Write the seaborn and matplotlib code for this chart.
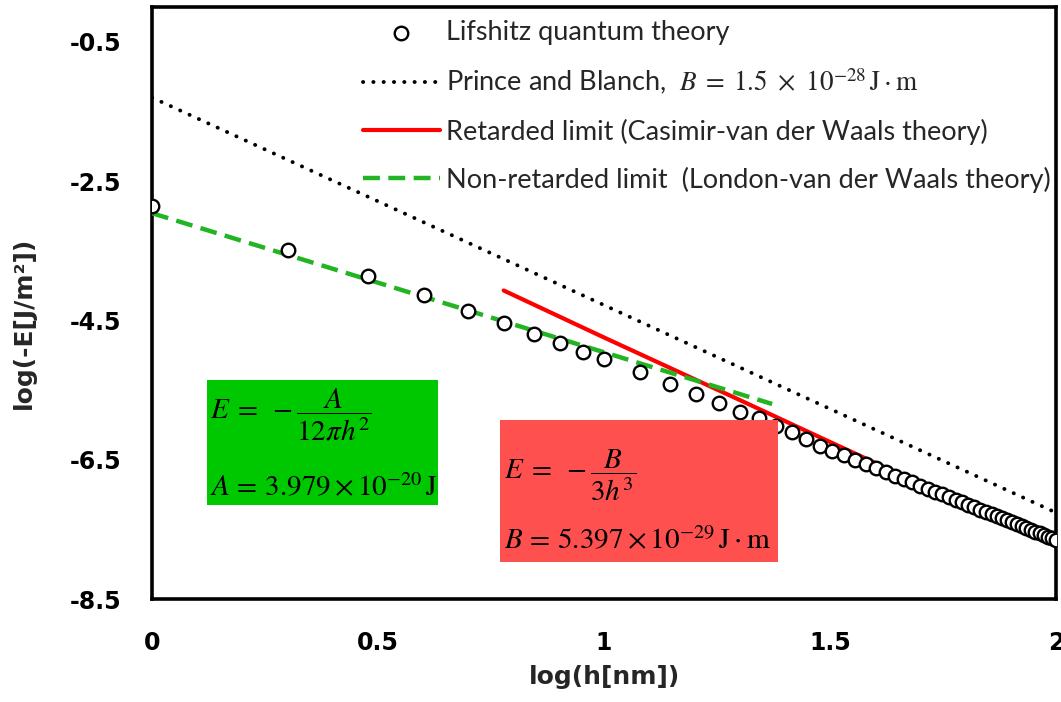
import numpy as np
import pandas as pd
import matplotlib
matplotlib.use("Agg")
import matplotlib.pyplot as plt
from matplotlib.patches import Rectangle
import seaborn as sns

# ---------------- data ----------------
h_nm = [1, 2, 3, 4, 5, 6, 7, 8, 9, 10, 12, 14, 16, 18, 20, 22, 24, 26, 28,
        30, 32, 34, 36, 38, 40, 42, 44, 46, 48, 50, 52, 54, 56, 58, 60, 62,
        64, 66, 68, 70, 72, 74, 76, 78, 80, 82, 84, 86, 88, 90, 92, 94, 96,
        98, 100]
lifshitz_logE = [-2.863, -3.494, -3.862, -4.140, -4.359, -4.541, -4.689, -4.823,
                 -4.948, -5.053, -5.235, -5.407, -5.555, -5.684, -5.809, -5.904,
                 -6.019, -6.105, -6.196, -6.296, -6.369, -6.437, -6.501, -6.562,
                 -6.620, -6.675, -6.727, -6.777, -6.825, -6.871, -6.915, -6.957,
                 -6.998, -7.038, -7.076, -7.113, -7.149, -7.183, -7.217, -7.249,
                 -7.281, -7.312, -7.342, -7.371, -7.400, -7.427, -7.455, -7.481,
                 -7.507, -7.532, -7.557, -7.581, -7.605, -7.628, -7.651]

prince_logh = [0.0, 2.0]
prince_logE = [-1.30, -7.26]

retarded_logh = [0.778, 1.0, 1.301, 1.477, 1.699, 2.0]
retarded_logE = [-4.07, -4.745, -5.645, -6.176, -6.842, -7.745]

nonret_logh = [0.0, 1.372]
nonret_logE = [-2.96, -5.70]

x_ticks = [0, 0.5, 1, 1.5, 2]
x_tick_labels = ["0", "0.5", "1", "1.5", "2"]
y_ticks = [-8.5, -6.5, -4.5, -2.5, -0.5]
y_tick_labels = ["-8.5", "-6.5", "-4.5", "-2.5", "-0.5"]

labels = ["Lifshitz quantum theory",
          r"Prince and Blanch,  $B\;=\;1.5\ \times\ 10^{-28}\,\mathrm{J\cdot m}$",
          "Retarded limit (Casimir-van der Waals theory)",
          "Non-retarded limit  (London-van der Waals theory)"]

# ---------------- style ----------------
sns.set_theme(style="white")
plt.rcParams["font.family"] = ["Lato", "DejaVu Sans"]
plt.rcParams["mathtext.fontset"] = "stix"
plt.rcParams["axes.unicode_minus"] = False

fig = plt.figure(figsize=(10.61, 7.02), dpi=100)
ax = fig.add_axes([0.1433, 0.1467, 0.8520, 0.8433])

df_pts = pd.DataFrame({"x": np.log10(h_nm), "y": lifshitz_logE})
df_pb = pd.DataFrame({"x": prince_logh, "y": prince_logE})
df_ret = pd.DataFrame({"x": retarded_logh, "y": retarded_logE})
df_non = pd.DataFrame({"x": nonret_logh, "y": nonret_logE})

sns.lineplot(data=df_pb, x="x", y="y", ax=ax, color="black", lw=2.8,
             linestyle=(0, (0.05, 2.6)), dash_capstyle="round",
             estimator=None, sort=False, label=labels[1], zorder=2)
sns.lineplot(data=df_ret, x="x", y="y", ax=ax, color="#FF0000", lw=3.0,
             estimator=None, sort=False, label=labels[2], zorder=2)
sns.lineplot(data=df_non, x="x", y="y", ax=ax, color="#22B422", lw=3.2,
             linestyle=(0, (3.8, 1.9)), estimator=None, sort=False,
             label=labels[3], zorder=3)
sns.scatterplot(data=df_pts, x="x", y="y", ax=ax, marker="o", s=95,
                facecolor="white", edgecolor="black", linewidth=1.7,
                label=labels[0], zorder=4)

ax.set_xlim(0, 2)
ax.set_ylim(-8.5, 0.0)
ax.set_xticks(x_ticks)
ax.set_xticklabels(x_tick_labels)
ax.set_yticks(y_ticks)
ax.set_yticklabels(y_tick_labels)
ax.tick_params(axis="both", direction="out", length=7, width=2.4,
               labelsize=17, color="black", labelcolor="black")
ax.tick_params(axis="y", pad=15)
ax.tick_params(axis="x", pad=16)
for lab in ax.get_xticklabels() + ax.get_yticklabels():
    lab.set_fontweight("bold")
    lab.set_family("DejaVu Sans")
for sp in ax.spines.values():
    sp.set_linewidth(2.6)
    sp.set_color("black")
    sp.set_visible(True)

ax.set_xlabel("log(h[nm])", fontsize=18, fontweight="bold", family="DejaVu Sans")
ax.set_ylabel("log(-E[J/m²])", fontsize=18, fontweight="bold", family="DejaVu Sans")
ax.xaxis.set_label_coords(0.5, -0.112)
ax.yaxis.set_label_coords(-0.129, 0.466)

# legend
handles, labs = ax.get_legend_handles_labels()
order = [labs.index(l) for l in labels]
leg = ax.legend([handles[i] for i in order], [labs[i] for i in order],
                loc="upper left", bbox_to_anchor=(0.2274, 0.987), frameon=False,
                fontsize=19.5, handlelength=2.84, handletextpad=0.22,
                labelspacing=0.8, borderaxespad=0.0, borderpad=0.2)

# formula boxes
ax.add_patch(Rectangle((0.0608, 0.1588), 0.2556, 0.2112, transform=ax.transAxes,
                       facecolor="#00C800", edgecolor="none", zorder=5))
ax.add_patch(Rectangle((0.385, 0.0625), 0.3075, 0.2399, transform=ax.transAxes,
                       facecolor="#FF5050", edgecolor="none", zorder=5))
ax.text(0.064, 0.311, r"$E\;=\;-\dfrac{A}{12\pi h^{2}}$", transform=ax.transAxes,
        fontsize=21, va="center", ha="left", color="black", zorder=6)
ax.text(0.064, 0.189, r"$A\,=\,3.979\times10^{-20}\,\mathrm{J}$", transform=ax.transAxes,
        fontsize=21, va="center", ha="left", color="black", zorder=6)
ax.text(0.389, 0.210, r"$E\;=\;-\dfrac{B}{3h^{3}}$", transform=ax.transAxes,
        fontsize=21, va="center", ha="left", color="black", zorder=6)
ax.text(0.389, 0.0997, r"$B\,=\,5.397\times10^{-29}\,\mathrm{J\cdot m}$", transform=ax.transAxes,
        fontsize=21, va="center", ha="left", color="black", zorder=6)

fig.savefig("out.png", dpi=100)
